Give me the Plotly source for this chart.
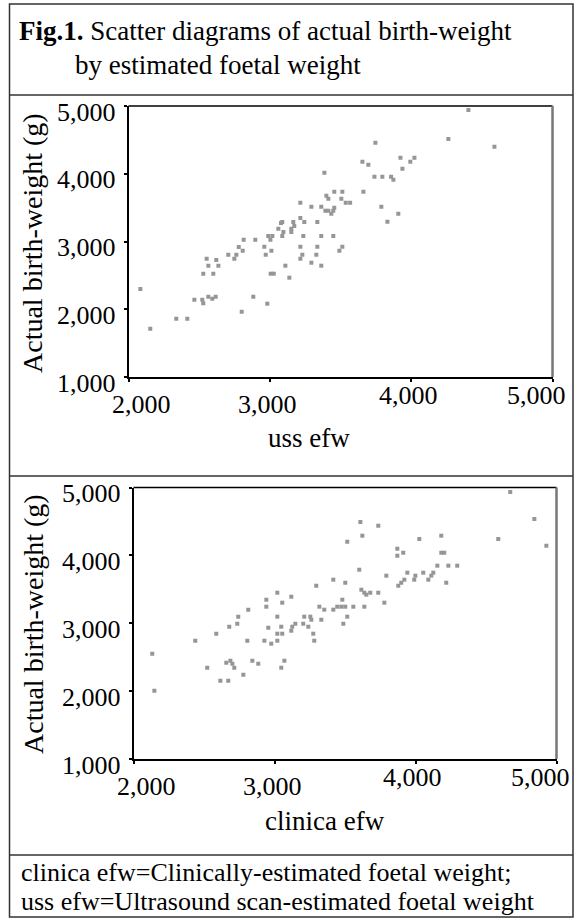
import plotly.graph_objects as go

# ---------------- data ----------------
uss_efw = [2084, 2154, 2338, 2416, 2466, 2522, 2529, 2565, 2593, 2617,
           2529, 2600, 2553, 2565, 2621, 2636, 2706, 2749, 2763, 2780,
           2808, 2815, 2801, 2883, 2897, 2961, 2971, 2982, 2989, 3004,
           3018, 3011, 3006, 3028, 3060, 3079, 3088, 3088, 3096, 3110,
           3138, 3152, 3152, 3166, 3173, 3216, 3216, 3244, 3237, 3216,
           3230, 3216, 3294, 3294, 3336, 3336, 3329, 3364, 3364, 3364,
           3386, 3400, 3414, 3393, 3414, 3435, 3456, 3456, 3449, 3492,
           4405, 4263, 4589, 3747, 3655, 3697, 3924, 4023, 3994, 3938,
           3740, 3796, 3858, 3874, 3513, 3662, 3506, 3537, 3568, 3789,
           3909, 3832, 3513, 3449]
uss_bw = [2299, 1713, 1861, 1861, 2141, 2141, 2088, 2185, 2156, 2185,
          2525, 2525, 2746, 2643, 2727, 2643, 2805, 2746, 2805, 2919,
          2864, 3027, 1964, 2185, 3027, 2923, 2805, 2082, 3081, 3027,
          3081, 2864, 2525, 2525, 3189, 3273, 3288, 3081, 3140, 2643,
          2466, 3140, 3189, 3288, 3229, 3573, 3347, 3288, 3081, 2923,
          2805, 2746, 2687, 3514, 3288, 2923, 2805, 3514, 3081, 2643,
          4016, 3676, 3632, 3455, 3455, 3410, 3735, 3499, 3081, 2864,
          4941, 4513, 4399, 4458, 4178, 4134, 4237, 4237, 4178, 4075,
          3956, 3956, 3956, 3912, 3735, 3735, 3632, 3573, 3573, 3514,
          3410, 3292, 2923, 3455]

clin_efw = [2133, 2148, 2438, 2523, 2587, 2616, 2672, 2658, 2687, 2701,
            2715, 2679, 2736, 2743, 2779, 2807, 2814, 2843, 2885, 2928,
            2942, 2942, 2956, 2977, 3020, 3020, 3020, 3055, 3020, 3048,
            3055, 3048, 3070, 3119, 3119, 3126, 3148, 3204, 3211, 3240,
            3254, 3261, 3275, 3282, 3296, 3318, 3332, 3353, 3417, 3417,
            3445, 4672, 4843, 4928, 4587, 3609, 3736, 3623, 3516, 4027,
            4183, 3871, 3871, 3913, 4183, 4204, 3601, 4155, 4233, 4296,
            3793, 3942, 3999, 4055, 4112, 4126, 3921, 3991, 4091, 3899,
            3878, 4218, 3502, 3616, 3637, 3651, 3679, 3736, 3779, 3481,
            3474, 3502, 3559, 3637, 3516, 3488]
clin_bw = [2551, 2006, 2743, 2345, 2846, 2154, 2154, 2419, 2448, 2404,
           2345, 2949, 2993, 3097, 2242, 2743, 3200, 2448, 2404, 2743,
           3244, 3347, 2934, 2699, 3450, 3097, 2846, 2846, 2743, 2949,
           3303, 2345, 2448, 3391, 2890, 2949, 2993, 2993, 3097, 2949,
           3097, 3052, 2846, 2743, 3553, 3244, 3052, 3200, 3642, 3200,
           3244, 4934, 4536, 4143, 4241, 4492, 4437, 4290, 4201, 4241,
           4290, 4098, 3995, 4039, 4039, 4039, 3789, 3848, 3848, 3848,
           3701, 3745, 3701, 3745, 3701, 3745, 3642, 3642, 3642, 3597,
           3553, 3597, 3597, 3494, 3450, 3421, 3450, 3450, 3303, 3347,
           3244, 3244, 3244, 3244, 3097, 2993]

x_ticks = [2000, 3000, 4000, 5000]
x_tick_labels = ["2,000", "3,000", "4,000", "5,000"]
y_ticks = [1000, 2000, 3000, 4000, 5000]
y_tick_labels = ["1,000", "2,000", "3,000", "4,000", "5,000"]

title_bold = "Fig.1."
title_line1 = " Scatter diagrams of actual birth-weight"
title_line2 = "by estimated foetal weight"
y_title = "Actual birth-weight (g)"
x_title_1 = "uss efw"
x_title_2 = "clinica efw"
footer_1 = "clinica efw=Clinically-estimated foetal weight;"
footer_2 = "uss efw=Ultrasound scan-estimated foetal weight"

# ---------------- layout helpers ----------------
W, H = 581, 920
FONT = "Liberation Serif"
MARK = "rgb(150,150,150)"


def px(v):
    return v / W


def py(v):
    return 1 - v / H


fig = go.Figure()
fig.add_trace(go.Scatter(x=uss_efw, y=uss_bw, mode="markers", xaxis="x", yaxis="y",
                         marker=dict(symbol="square", size=4, color=MARK, line=dict(width=0)),
                         showlegend=False, hoverinfo="x+y"))
fig.add_trace(go.Scatter(x=clin_efw, y=clin_bw, mode="markers", xaxis="x2", yaxis="y2",
                         marker=dict(symbol="square", size=4, color=MARK, line=dict(width=0)),
                         showlegend=False, hoverinfo="x+y"))

ax_common = dict(showgrid=False, zeroline=False, showline=True, linecolor="black",
                 linewidth=1.5, ticks="outside", ticklen=3, tickwidth=2,
                 tickcolor="black", showticklabels=False, fixedrange=True)

fig.update_layout(
    width=W, height=H, margin=dict(l=0, r=0, t=0, b=0),
    paper_bgcolor="white", plot_bgcolor="white",
    font=dict(family=FONT, color="black"),
    xaxis=dict(domain=[px(128.5), px(552.5)], range=[2000, 5000], tickvals=x_ticks,
               anchor="y", **ax_common),
    yaxis=dict(domain=[py(377), py(106)], range=[1000, 5000], tickvals=y_ticks,
               anchor="x", **ax_common),
    xaxis2=dict(domain=[px(133.5), px(556.5)], range=[2000, 5000], tickvals=x_ticks,
                anchor="y2", **ax_common),
    yaxis2=dict(domain=[py(759), py(487.5)], range=[1000, 5000], tickvals=y_ticks,
                anchor="x2", **ax_common),
)

BX0, BX1, BY0, BY1 = 9.5, 573, 4, 917
shapes = []
shapes.append(dict(type="rect", xref="paper", yref="paper", x0=px(BX0), x1=px(BX1),
                   y0=py(BY1), y1=py(BY0), line=dict(color="#333", width=1.5)))
for yy in (95, 476, 855):
    shapes.append(dict(type="line", xref="paper", yref="paper", x0=px(BX0), x1=px(BX1),
                       y0=py(yy), y1=py(yy), line=dict(color="#333", width=1.5)))
for xa, ya in (("x", "y"), ("x2", "y2")):
    shapes.append(dict(type="line", xref=xa + " domain", yref=ya + " domain",
                       x0=0, x1=1, y0=1, y1=1, line=dict(color="black", width=1.5)))
    shapes.append(dict(type="line", xref=xa + " domain", yref=ya + " domain",
                       x0=1, x1=1, y0=0, y1=1, line=dict(color="#777", width=2.5)))
fig.update_layout(shapes=shapes)

ann = []
TS = 27
ann.append(dict(xref="paper", yref="paper", x=px(17), y=py(31), xanchor="left",
                yanchor="middle", showarrow=False,
                text="<b>" + title_bold + "</b>" + title_line1, font=dict(size=TS)))
ann.append(dict(xref="paper", yref="paper", x=px(73), y=py(65), xanchor="left",
                yanchor="middle", showarrow=False, text=title_line2, font=dict(size=TS)))

x_shift = [13, -2, -3, -16]
x_drop = [27, 27, 18, 18]
for xa, ya in (("x", "y"), ("x2", "y2")):
    for v, lab, sx, dy in zip(x_ticks, x_tick_labels, x_shift, x_drop):
        ann.append(dict(xref=xa, yref=ya + " domain", x=v, y=0, xanchor="center",
                        yanchor="middle", xshift=sx, yshift=-dy, showarrow=False,
                        text=lab, font=dict(size=26)))
    for v, lab in zip(y_ticks, y_tick_labels):
        ann.append(dict(xref=xa + " domain", yref=ya, x=0, y=v, xanchor="right",
                        yanchor="middle", xshift=-11, yshift=-6, showarrow=False,
                        text=lab, font=dict(size=26)))

for yc in (243, 624):
    ann.append(dict(xref="paper", yref="paper", x=px(33), y=py(yc), xanchor="center",
                    yanchor="middle", textangle=-90, showarrow=False, text=y_title,
                    font=dict(size=28)))
ann.append(dict(xref="paper", yref="paper", x=px(309), y=py(438), xanchor="center",
                yanchor="middle", showarrow=False, text=x_title_1, font=dict(size=TS)))
ann.append(dict(xref="paper", yref="paper", x=px(325), y=py(821), xanchor="center",
                yanchor="middle", showarrow=False, text=x_title_2, font=dict(size=TS)))

FS = 26
ann.append(dict(xref="paper", yref="paper", x=px(19), y=py(872), xanchor="left",
                yanchor="middle", showarrow=False, text=footer_1, font=dict(size=FS)))
ann.append(dict(xref="paper", yref="paper", x=px(19), y=py(901), xanchor="left",
                yanchor="middle", showarrow=False, text=footer_2, font=dict(size=FS)))

fig.update_layout(annotations=ann)
fig.write_html("out.html", config={"displayModeBar": False},
               post_script="document.body.style.margin='0px';")
